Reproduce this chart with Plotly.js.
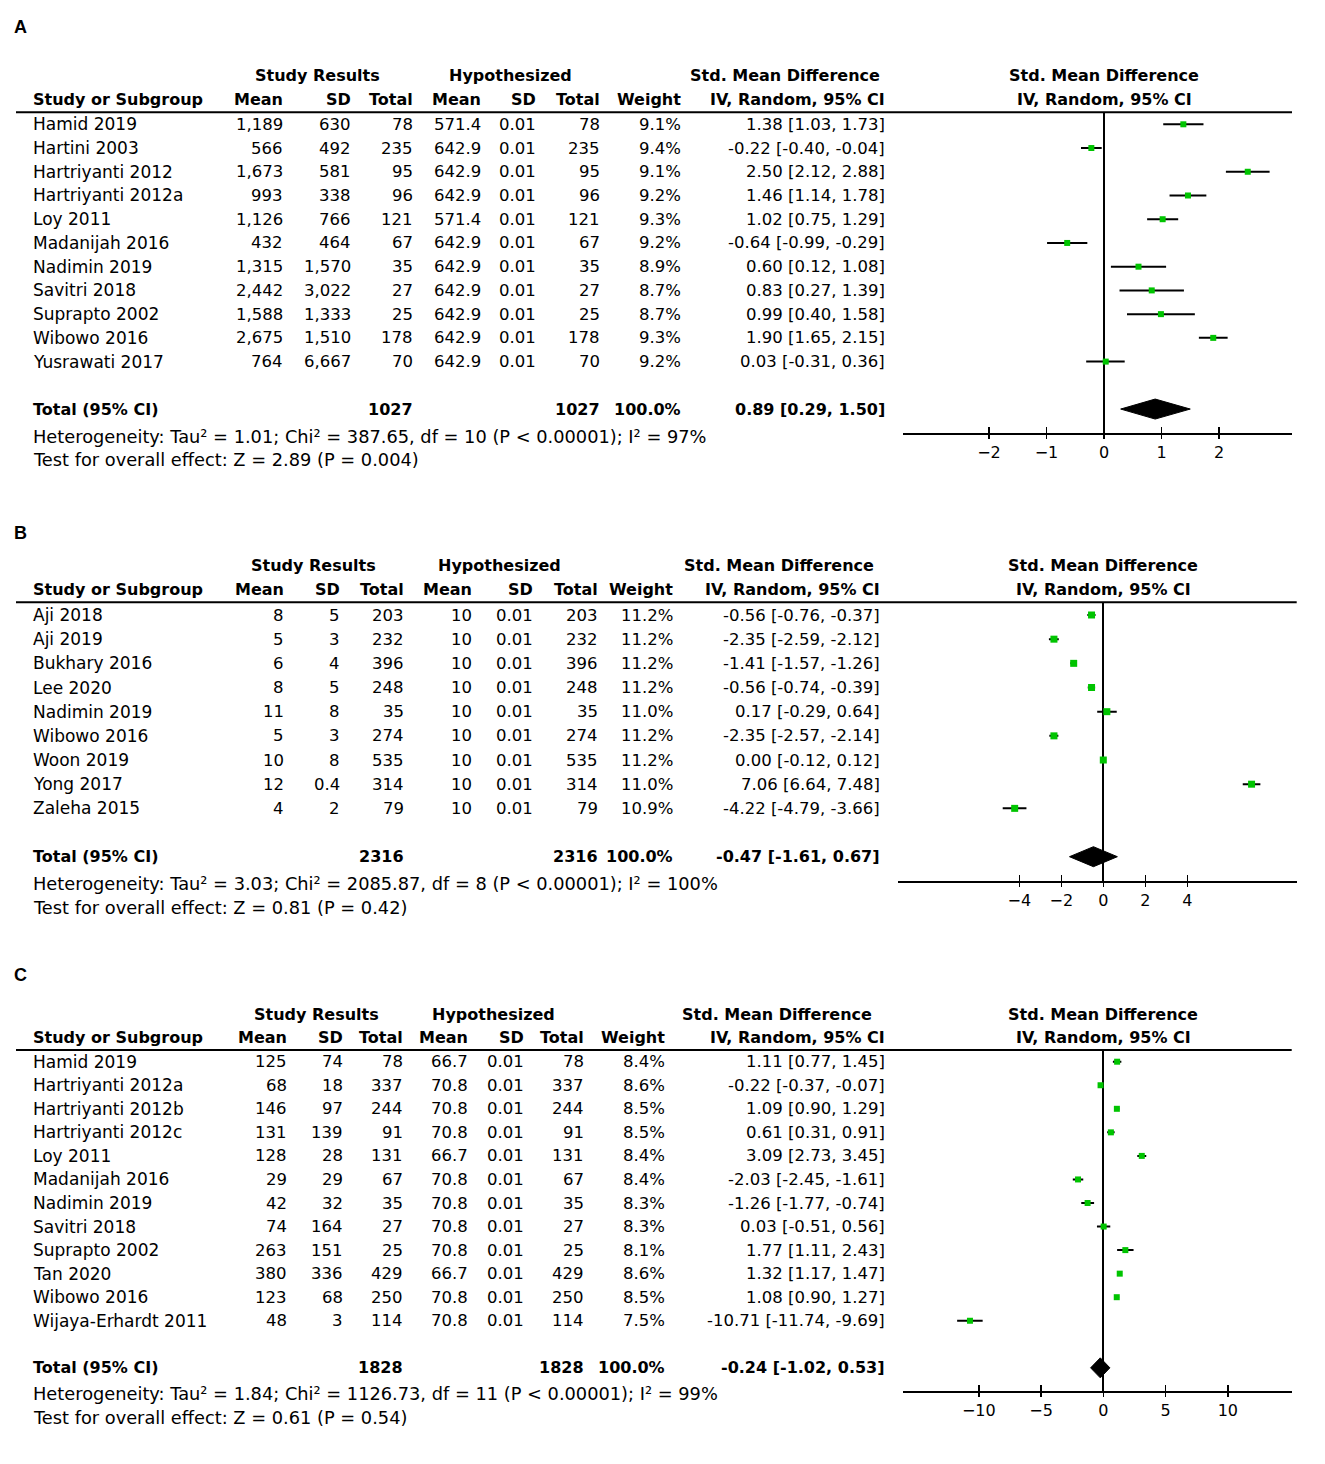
<!DOCTYPE html>
<html>
<head>
<meta charset="utf-8">
<script src="https://cdn.plot.ly/plotly-3.0.1.min.js"></script>
<style>html,body{margin:0;padding:0;background:#fff;}#chart{width:1325px;height:1464px;}</style>
</head>
<body>
<div id="chart"></div>
<script>
// ---------------- Panel A data ----------------
const A_studies = ["Hamid 2019","Hartini 2003","Hartriyanti 2012","Hartriyanti 2012a","Loy 2011","Madanijah 2016","Nadimin 2019","Savitri 2018","Suprapto 2002","Wibowo 2016","Yusrawati 2017"];
const A_mean = [1189, 566, 1673, 993, 1126, 432, 1315, 2442, 1588, 2675, 764];
const A_sd = [630, 492, 581, 338, 766, 464, 1570, 3022, 1333, 1510, 6667];
const A_total = [78, 235, 95, 96, 121, 67, 35, 27, 25, 178, 70];
const A_hmean = [571.4, 642.9, 642.9, 642.9, 571.4, 642.9, 642.9, 642.9, 642.9, 642.9, 642.9];
const A_hsd = [0.01, 0.01, 0.01, 0.01, 0.01, 0.01, 0.01, 0.01, 0.01, 0.01, 0.01];
const A_htotal = [78, 235, 95, 96, 121, 67, 35, 27, 25, 178, 70];
const A_weight = [9.1, 9.4, 9.1, 9.2, 9.3, 9.2, 8.9, 8.7, 8.7, 9.3, 9.2];
const A_smd = [1.38, -0.22, 2.50, 1.46, 1.02, -0.64, 0.60, 0.83, 0.99, 1.90, 0.03];
const A_lo = [1.03, -0.40, 2.12, 1.14, 0.75, -0.99, 0.12, 0.27, 0.40, 1.65, -0.31];
const A_hi = [1.73, -0.04, 2.88, 1.78, 1.29, -0.29, 1.08, 1.39, 1.58, 2.15, 0.36];
const A_pooled = [0.89, 0.29, 1.50];
const A_sumTotal = 1027, A_sumHTotal = 1027, A_sumWeight = 100.0;
const A_het = "Heterogeneity: Tau² = 1.01; Chi² = 387.65, df = 10 (P < 0.00001); I² = 97%";
const A_test = "Test for overall effect: Z = 2.89 (P = 0.004)";
const A_ticks = [-2, -1, 0, 1, 2];

// ---------------- Panel B data ----------------
const B_studies = ["Aji 2018","Aji 2019","Bukhary 2016","Lee 2020","Nadimin 2019","Wibowo 2016","Woon 2019","Yong 2017","Zaleha 2015"];
const B_mean = [8, 5, 6, 8, 11, 5, 10, 12, 4];
const B_sd = [5, 3, 4, 5, 8, 3, 8, 0.4, 2];
const B_total = [203, 232, 396, 248, 35, 274, 535, 314, 79];
const B_hmean = [10, 10, 10, 10, 10, 10, 10, 10, 10];
const B_hsd = [0.01, 0.01, 0.01, 0.01, 0.01, 0.01, 0.01, 0.01, 0.01];
const B_htotal = [203, 232, 396, 248, 35, 274, 535, 314, 79];
const B_weight = [11.2, 11.2, 11.2, 11.2, 11.0, 11.2, 11.2, 11.0, 10.9];
const B_smd = [-0.56, -2.35, -1.41, -0.56, 0.17, -2.35, 0.00, 7.06, -4.22];
const B_lo = [-0.76, -2.59, -1.57, -0.74, -0.29, -2.57, -0.12, 6.64, -4.79];
const B_hi = [-0.37, -2.12, -1.26, -0.39, 0.64, -2.14, 0.12, 7.48, -3.66];
const B_pooled = [-0.47, -1.61, 0.67];
const B_sumTotal = 2316, B_sumHTotal = 2316, B_sumWeight = 100.0;
const B_het = "Heterogeneity: Tau² = 3.03; Chi² = 2085.87, df = 8 (P < 0.00001); I² = 100%";
const B_test = "Test for overall effect: Z = 0.81 (P = 0.42)";
const B_ticks = [-4, -2, 0, 2, 4];

// ---------------- Panel C data ----------------
const C_studies = ["Hamid 2019","Hartriyanti 2012a","Hartriyanti 2012b","Hartriyanti 2012c","Loy 2011","Madanijah 2016","Nadimin 2019","Savitri 2018","Suprapto 2002","Tan 2020","Wibowo 2016","Wijaya-Erhardt 2011"];
const C_mean = [125, 68, 146, 131, 128, 29, 42, 74, 263, 380, 123, 48];
const C_sd = [74, 18, 97, 139, 28, 29, 32, 164, 151, 336, 68, 3];
const C_total = [78, 337, 244, 91, 131, 67, 35, 27, 25, 429, 250, 114];
const C_hmean = [66.7, 70.8, 70.8, 70.8, 66.7, 70.8, 70.8, 70.8, 70.8, 66.7, 70.8, 70.8];
const C_hsd = [0.01, 0.01, 0.01, 0.01, 0.01, 0.01, 0.01, 0.01, 0.01, 0.01, 0.01, 0.01];
const C_htotal = [78, 337, 244, 91, 131, 67, 35, 27, 25, 429, 250, 114];
const C_weight = [8.4, 8.6, 8.5, 8.5, 8.4, 8.4, 8.3, 8.3, 8.1, 8.6, 8.5, 7.5];
const C_smd = [1.11, -0.22, 1.09, 0.61, 3.09, -2.03, -1.26, 0.03, 1.77, 1.32, 1.08, -10.71];
const C_lo = [0.77, -0.37, 0.90, 0.31, 2.73, -2.45, -1.77, -0.51, 1.11, 1.17, 0.90, -11.74];
const C_hi = [1.45, -0.07, 1.29, 0.91, 3.45, -1.61, -0.74, 0.56, 2.43, 1.47, 1.27, -9.69];
const C_pooled = [-0.24, -1.02, 0.53];
const C_sumTotal = 1828, C_sumHTotal = 1828, C_sumWeight = 100.0;
const C_het = "Heterogeneity: Tau² = 1.84; Chi² = 1126.73, df = 11 (P < 0.00001); I² = 99%";
const C_test = "Test for overall effect: Z = 0.61 (P = 0.54)";
const C_ticks = [-10, -5, 0, 5, 10];

// ---------------- Headers ----------------
const groupHeaders = ["Study Results", "Hypothesized", "Std. Mean Difference"];
const colHeaders = ["Study or Subgroup", "Mean", "SD", "Total", "Mean", "SD", "Total", "Weight", "IV, Random, 95% CI"];
const plotHeader = ["Std. Mean Difference", "IV, Random, 95% CI"];
const totalLabel = "Total (95% CI)";

// ---------------- Assemble (data) ----------------
const panelData = [
  {label:"A", studies:A_studies, mean:A_mean, sd:A_sd, total:A_total, hmean:A_hmean, hsd:A_hsd, htotal:A_htotal, weight:A_weight, smd:A_smd, lo:A_lo, hi:A_hi, pooled:A_pooled, sumT:A_sumTotal, sumH:A_sumHTotal, sumW:A_sumWeight, het:A_het, test:A_test, ticks:A_ticks},
  {label:"B", studies:B_studies, mean:B_mean, sd:B_sd, total:B_total, hmean:B_hmean, hsd:B_hsd, htotal:B_htotal, weight:B_weight, smd:B_smd, lo:B_lo, hi:B_hi, pooled:B_pooled, sumT:B_sumTotal, sumH:B_sumHTotal, sumW:B_sumWeight, het:B_het, test:B_test, ticks:B_ticks},
  {label:"C", studies:C_studies, mean:C_mean, sd:C_sd, total:C_total, hmean:C_hmean, hsd:C_hsd, htotal:C_htotal, weight:C_weight, smd:C_smd, lo:C_lo, hi:C_hi, pooled:C_pooled, sumT:C_sumTotal, sumH:C_sumHTotal, sumW:C_sumWeight, het:C_het, test:C_test, ticks:C_ticks}
];

// ---------------- Geometry (pixels, layout only) ----------------
const W = 1325, H = 1464;
const geom = [
  {letterY:27, h1:75.7, h2:99.3, lineY:112.3, axisY:432.7, row0:124.3, step:23.73, xL:902.5, xR:1292, zero:1104, unit:57.5,
   cols:[285, 352.5, 415, 483, 538, 602, 683, 887], sr:317, hyp:510, smdc:784.5, het:436, test:459, msize:6},
  {letterY:533, h1:565, h2:589.3, lineY:602.3, axisY:880.7, row0:615, step:24.17, xL:898.3, xR:1296.7, zero:1103.3, unit:21.0,
   cols:[286.4, 342.3, 406.3, 474.3, 534.7, 599.6, 674.7, 882], sr:313.4, hyp:499.3, smdc:779, het:883, test:907, msize:7},
  {letterY:975, h1:1014, h2:1037.3, lineY:1050, axisY:1391, row0:1061.7, step:23.55, xL:903.3, xR:1291.7, zero:1103.3, unit:12.45,
   cols:[288.6, 344.5, 405, 469.8, 525.7, 586, 666.7, 886.7], sr:316.6, hyp:493.3, smdc:777, het:1393, test:1417, msize:6}
];
const NAME_X = 31;
const FONT = "DejaVu Sans";
const REG = 16.5, BOLD = 16, NAME = 17, NOTE = 17.8;
const GREEN = "#00c400";

const X = px => px / W;
const Y = py => 1 - py / H;
const fmtN = v => v.toLocaleString('en-US', {maximumFractionDigits: 3});
const f2 = v => v.toFixed(2);
const ci = (e, l, h) => `${f2(e)} [${f2(l)}, ${f2(h)}]`;

const traces = [];
const annotations = [];
const shapes = [];
const layout = {
  width: W, height: H,
  margin: {l:0, r:0, t:0, b:0},
  paper_bgcolor: "#fff", plot_bgcolor: "rgba(0,0,0,0)",
  showlegend: false,
  font: {family: FONT, color: "#000"},
  annotations: annotations, shapes: shapes
};

function ann(text, xpx, ypaper, xanchor, bold, size, yref) {
  annotations.push({
    text: text, x: X(xpx), xref: "paper", y: ypaper, yref: yref || "paper",
    xanchor: xanchor, yanchor: "middle", showarrow: false,
    font: {family: FONT, size: size || (bold ? BOLD : REG), color: "#000", weight: bold ? "bold" : "normal"}
  });
}

panelData.forEach((d, k) => {
  const g = geom[k];
  const n = d.studies.length;
  const ax = k + 1;
  const xName = ax === 1 ? "x" : "x" + ax;
  const yName = ax === 1 ? "y" : "y" + ax;
  const ovName = "x" + (ax + 3);
  const rows = d.studies.map((_, i) => i);
  const totalRow = n + 1;

  const xr = [(g.xL - g.zero) / g.unit, (g.xR - g.zero) / g.unit];
  const yr = [(g.axisY - g.row0) / g.step, (g.lineY - g.row0) / g.step];

  layout["xaxis" + (ax === 1 ? "" : ax)] = {
    domain: [X(g.xL), X(g.xR)], anchor: yName, range: xr, fixedrange: true,
    showgrid: false, zeroline: true, zerolinecolor: "#000", zerolinewidth: 2,
    showline: true, linecolor: "#000", linewidth: 2,
    ticks: "outside", ticklen: 4, tickwidth: 1.5, tickcolor: "#000",
    tickmode: "array", tickvals: d.ticks,
    tickfont: {family: FONT, size: 16, color: "#000"}
  };
  layout["xaxis" + (ax + 3)] = {
    overlaying: xName, anchor: yName, range: xr, fixedrange: true, side: "bottom",
    showgrid: false, zeroline: false, showline: false, showticklabels: false,
    ticks: "inside", ticklen: 6, tickwidth: 1.5, tickcolor: "#000",
    tickmode: "array", tickvals: d.ticks
  };
  layout["yaxis" + (ax === 1 ? "" : ax)] = {
    domain: [Y(g.axisY), Y(g.lineY)], anchor: xName, range: yr, fixedrange: true,
    showgrid: false, zeroline: false, showline: false, showticklabels: false, ticks: ""
  };

  // dummy for overlay axis
  traces.push({type: "scatter", x: [], y: [], xaxis: ovName, yaxis: yName, hoverinfo: "skip"});

  // study estimates with CIs
  traces.push({
    type: "scatter", mode: "markers", xaxis: xName, yaxis: yName,
    x: d.smd, y: rows,
    error_x: {type: "data", symmetric: false,
      array: d.hi.map((h, i) => h - d.smd[i]),
      arrayminus: d.lo.map((l, i) => d.smd[i] - l),
      color: "#000", thickness: 2, width: 0},
    marker: {symbol: "square", size: g.msize, color: GREEN, line: {width: 0}},
    cliponaxis: false, hoverinfo: "skip"
  });

  // pooled diamond
  const hh = 10 / g.step;
  const [pe, pl, ph] = d.pooled;
  traces.push({
    type: "scatter", mode: "lines", xaxis: xName, yaxis: yName,
    x: [pl, pe, ph, pe, pl], y: [totalRow, totalRow - hh, totalRow, totalRow + hh, totalRow],
    fill: "toself", fillcolor: "#000", line: {color: "#000", width: 1}, hoverinfo: "skip"
  });

  // header line across table + plot
  shapes.push({type: "line", xref: "paper", yref: "paper", x0: X(16), x1: X(g.xR), y0: Y(g.lineY), y1: Y(g.lineY),
    line: {color: "#000", width: 2}});

  // panel letter
  annotations.push({text: d.label, x: X(12), xref: "paper", y: Y(g.letterY), yref: "paper",
    xanchor: "left", yanchor: "middle", showarrow: false,
    font: {family: "Liberation Sans", size: 18, color: "#000", weight: "bold"}});

  // group headers
  ann(groupHeaders[0], g.sr, Y(g.h1), "center", true);
  ann(groupHeaders[1], g.hyp, Y(g.h1), "center", true);
  ann(groupHeaders[2], g.smdc, Y(g.h1), "center", true);
  ann(plotHeader[0], g.zero, Y(g.h1), "center", true);
  // column headers
  ann(colHeaders[0], NAME_X, Y(g.h2), "left", true);
  for (let c = 1; c < colHeaders.length; c++) ann(colHeaders[c], g.cols[c - 1], Y(g.h2), "right", true);
  ann(plotHeader[1], g.zero, Y(g.h2), "center", true);

  // rows
  d.studies.forEach((s, i) => {
    const vals = [fmtN(d.mean[i]), fmtN(d.sd[i]), fmtN(d.total[i]), fmtN(d.hmean[i]), fmtN(d.hsd[i]), fmtN(d.htotal[i]),
      d.weight[i].toFixed(1) + "%", ci(d.smd[i], d.lo[i], d.hi[i])];
    ann(s, NAME_X, i, "left", false, NAME, yName);
    vals.forEach((v, c) => ann(v, g.cols[c], i, "right", false, REG, yName));
  });

  // total row
  ann(totalLabel, NAME_X, totalRow, "left", true, BOLD, yName);
  ann(String(d.sumT), g.cols[2], totalRow, "right", true, BOLD, yName);
  ann(String(d.sumH), g.cols[5], totalRow, "right", true, BOLD, yName);
  ann(d.sumW.toFixed(1) + "%", g.cols[6], totalRow, "right", true, BOLD, yName);
  ann(ci(pe, pl, ph), g.cols[7], totalRow, "right", true, BOLD, yName);

  // heterogeneity & overall effect
  ann(d.het, NAME_X, Y(g.het), "left", false, NOTE);
  ann(d.test, NAME_X, Y(g.test), "left", false, NOTE);
});

Plotly.newPlot("chart", traces, layout, {staticPlot: true, displayModeBar: false});
</script>
</body>
</html>
